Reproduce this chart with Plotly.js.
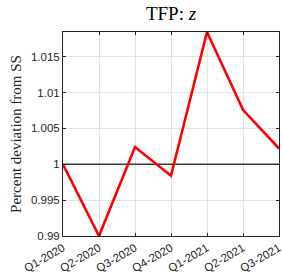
<!DOCTYPE html>
<html>
<head>
<meta charset="utf-8">
<script src="https://cdn.plot.ly/plotly-3.0.1.min.js"></script>
<style>html,body{margin:0;padding:0;background:#fff;}#chart{width:283px;height:274px;}</style>
</head>
<body>
<div id="chart"></div>
<script>
const quarters = ["Q1-2020","Q2-2020","Q3-2020","Q4-2020","Q1-2021","Q2-2021","Q3-2021"];
const tfp = [1.0, 0.99, 1.0024, 0.9984, 1.01845, 1.0076, 1.0022];
const steadyState = 1;
const yTickVals = [0.99, 0.995, 1, 1.005, 1.01, 1.015];
const yTickText = ["0.99", "0.995", "1", "1.005", "1.01", "1.015"];

const xIdx = quarters.map((q, i) => i);

const traces = [
  {
    x: xIdx, y: xIdx.map(() => steadyState),
    mode: "lines", line: {color: "#3a3a3a", width: 1.5},
    hoverinfo: "skip", showlegend: false
  },
  {
    x: xIdx, y: tfp,
    mode: "lines", line: {color: "#ff0000", width: 2.6},
    showlegend: false
  }
];

const axisCommon = {
  showline: true, linecolor: "#262626", linewidth: 1, mirror: "ticks",
  ticks: "inside", ticklen: 3, tickcolor: "#262626",
  showgrid: true, gridcolor: "#e3e3e3", gridwidth: 1,
  zeroline: false, automargin: false,
  tickfont: {family: "Liberation Sans, Arial, sans-serif", size: 11.5, color: "#262626"}
};

const layout = {
  width: 283, height: 274,
  margin: {l: 63, r: 4, t: 32, b: 38},
  paper_bgcolor: "#fff", plot_bgcolor: "#fff",
  title: {
    text: "TFP: <i>z</i>",
    font: {family: "Liberation Serif, DejaVu Serif, serif", size: 19, color: "#000"},
    x: 171/283, xanchor: "center", y: 0.95, yanchor: "middle"
  },
  xaxis: Object.assign({}, axisCommon, {
    range: [0, quarters.length - 1],
    tickmode: "array", tickvals: xIdx, ticktext: quarters,
    tickangle: -30, ticklabeloverflow: "allow"
  }),
  yaxis: Object.assign({}, axisCommon, {
    range: [0.99, 1.01845],
    tickmode: "array", tickvals: yTickVals, ticktext: yTickText,
    ticklabeloverflow: "allow",
    title: {text: "Percent deviation from SS", standoff: 5,
      font: {family: "Liberation Serif, DejaVu Serif, serif", size: 15, color: "#262626"}}
  })
};

Plotly.newPlot("chart", traces, layout, {staticPlot: true, displayModeBar: false});
</script>
</body>
</html>
